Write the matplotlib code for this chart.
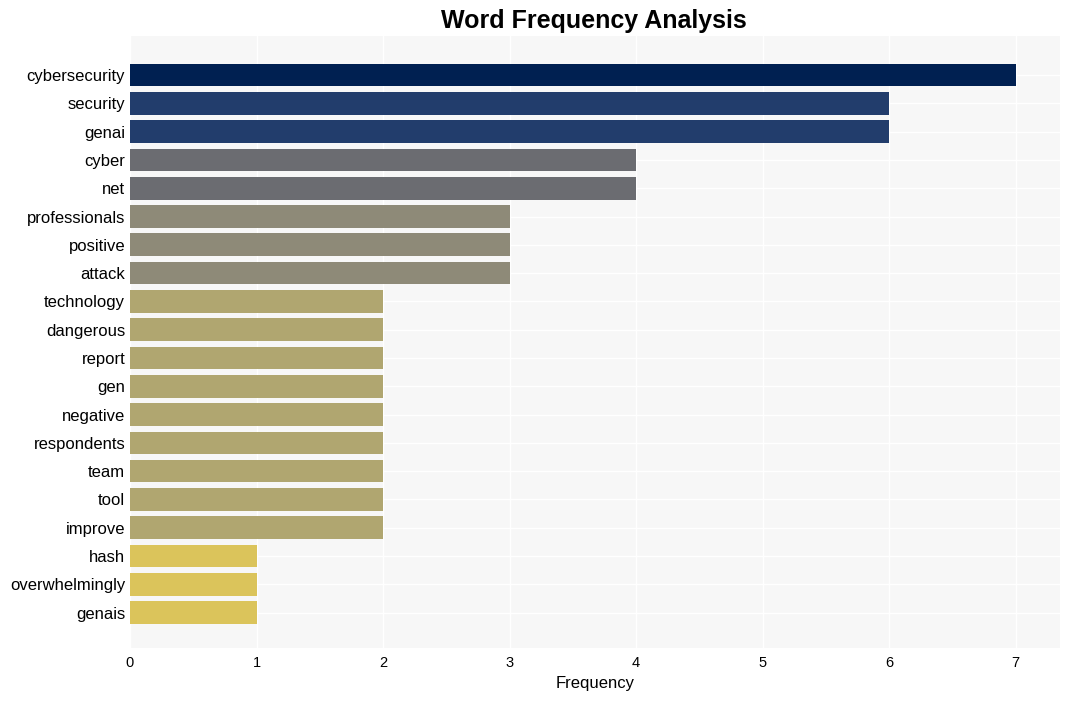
import matplotlib.pyplot as plt
import numpy as np

plt.rcParams['font.family'] = ['Liberation Sans', 'DejaVu Sans']

words = ['cybersecurity', 'security', 'genai', 'cyber', 'net', 'professionals',
         'positive', 'attack', 'technology', 'dangerous', 'report', 'gen',
         'negative', 'respondents', 'team', 'tool', 'improve', 'hash',
         'overwhelmingly', 'genais']
counts = [7, 6, 6, 4, 4, 3, 3, 3, 2, 2, 2, 2, 2, 2, 2, 2, 2, 1, 1, 1]

# colour per frequency level
level_colors = {7: '#002051', 6: '#223d6c', 4: '#6b6c71', 3: '#8e8a78',
                2: '#b0a670', 1: '#dbc45b'}
colors = [level_colors[c] for c in counts]

fig = plt.figure(figsize=(10.69, 7.01), dpi=100)
ax = fig.add_axes([130 / 1069, 1 - 648 / 701, 930 / 1069, 612 / 701])
ax.set_facecolor('#f7f7f7')

y = np.arange(len(words))
ax.barh(y, counts, height=0.8, color=colors, zorder=3)
ax.set_yticks(y)
ax.set_yticklabels(words, fontsize=12)
ax.set_ylim(len(words) - 1 + 1.25, -1.38)
ax.set_xlim(0, 7.35)
ax.set_xticks(range(0, 8))
ax.tick_params(axis='x', labelsize=10.5, pad=6)
ax.tick_params(axis='y', pad=3.5)
ax.tick_params(length=0)
ax.grid(True, color='white', linewidth=1, zorder=0)
for s in ax.spines.values():
    s.set_visible(False)

ax.set_xlabel('Frequency', fontsize=12, labelpad=4)
fig.text(594 / 1069, 1 - 21 / 701, 'Word Frequency Analysis', ha='center',
         va='center', fontsize=18, fontweight='bold')

fig.savefig('out.png', dpi=100)
